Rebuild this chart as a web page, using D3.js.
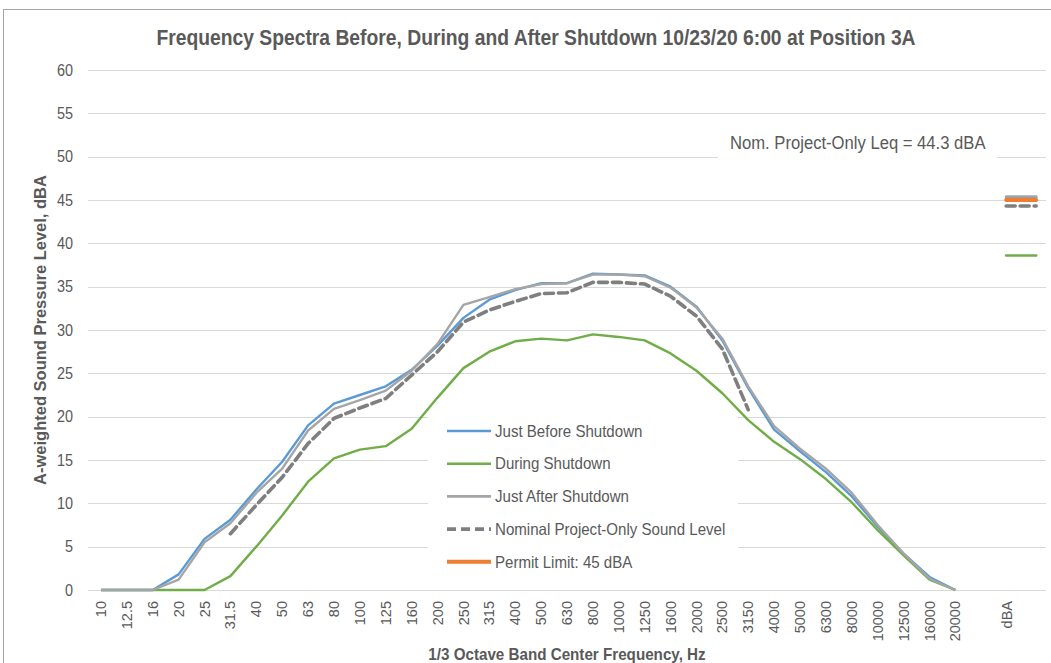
<!DOCTYPE html>
<html><head><meta charset="utf-8">
<script src="https://cdn.jsdelivr.net/npm/d3@7"></script>
<style>
body{margin:0;background:#fff}
svg{display:block}
text{font-family:"Liberation Sans",Arial,sans-serif;fill:#595959}
</style>
</head><body>
<svg id="c" width="1051" height="663"></svg>
<script>
// ---- data ----
const categories = ["10","12.5","16","20","25","31.5","40","50","63","80","100","125","160","200","250","315","400","500","630","800","1000","1250","1600","2000","2500","3150","4000","5000","6300","8000","10000","12500","16000","20000","","dBA",""];
const justBefore = [0,0,0,1.8,5.9,8.1,11.6,14.8,19.0,21.5,22.5,23.5,25.4,28.2,31.4,33.5,34.6,35.4,35.4,36.5,36.4,36.3,35.0,32.7,28.8,23.3,18.5,16.0,13.6,10.8,7.3,4.2,1.5,0];
const during = [0,0,0,0,0,1.6,5.0,8.6,12.5,15.2,16.2,16.6,18.6,22.2,25.6,27.5,28.7,29.0,28.8,29.5,29.2,28.8,27.3,25.3,22.7,19.6,17.1,15.1,12.8,10.1,6.9,4.0,1.2,0];
const justAfter = [0,0,0,1.2,5.5,7.7,11.2,14.0,18.4,20.9,21.9,23.0,25.3,28.4,32.9,33.8,34.7,35.3,35.4,36.4,36.4,36.2,34.9,32.6,29.0,23.5,18.9,16.3,14.0,11.2,7.5,4.2,1.3,0];
const nominal = [null,null,null,null,null,6.5,9.8,13.0,16.9,19.8,21.0,22.1,24.8,27.5,30.9,32.3,33.3,34.2,34.3,35.5,35.5,35.3,33.9,31.6,27.8,20.8,null,null,null,null,null,null,null,null];
const seriesNames = ["Just Before Shutdown","During Shutdown","Just After Shutdown","Nominal Project-Only Sound Level","Permit Limit: 45 dBA"];
const seriesColors = ["#5B9BD5","#70AD47","#A5A5A5","#7F7F7F","#ED7D31"];
const dbaValues = [45.3, 38.6, 45.4, 44.3, 45.0]; // overall dBA per series
const yTicks = [0,5,10,15,20,25,30,35,40,45,50,55,60];
const title = "Frequency Spectra Before, During and After Shutdown 10/23/20 6:00 at Position 3A";
const yTitle = "A-weighted Sound Pressure Level, dBA";
const xTitle = "1/3 Octave Band Center Frequency, Hz";
const annotation = "Nom. Project-Only Leq = 44.3 dBA";

// ---- helpers ----
function condense(sel, f){
  sel.each(function(){
    const w = this.getComputedTextLength();
    if(w>0) d3.select(this).attr("textLength", w*f).attr("lengthAdjust","spacingAndGlyphs");
  });
  return sel;
}

// ---- layout ----
const svg = d3.select("#c");
const L = 88, R = 1046, T = 70, B = 590;
const x = d3.scaleBand().domain(d3.range(categories.length)).range([L, R]);
const xc = i => x(i) + x.bandwidth()/2;
const y = d3.scaleLinear().domain([0,60]).range([B, T]);

// chart border
svg.append("rect").attr("x",3.5).attr("y",9.5).attr("width",1100).attr("height",700)
  .attr("fill","none").attr("stroke","#A6A6A6").attr("stroke-width",1);

// gridlines
svg.append("g").selectAll("line").data(yTicks).join("line")
  .attr("x1",L).attr("x2",R).attr("y1",d=>Math.round(y(d))+0.5).attr("y2",d=>Math.round(y(d))+0.5)
  .attr("stroke","#D9D9D9").attr("stroke-width",1.2);

// y axis labels
const yAxis = d3.axisLeft(y).tickValues(yTicks).tickSize(0).tickPadding(0);
const gy = svg.append("g").attr("transform",`translate(${L-15},0)`).call(yAxis);
gy.select(".domain").remove();
gy.selectAll("text").attr("font-size",16).style("font-family",'"Liberation Sans",Arial,sans-serif').attr("fill","#595959");
condense(gy.selectAll("text"),0.9);

// x axis labels
const xAxis = d3.axisBottom(x).tickFormat(i=>categories[i]).tickSize(0).tickPadding(0);
const gx = svg.append("g").attr("transform",`translate(0,${B})`).call(xAxis);
gx.select(".domain").remove();
gx.selectAll("text").attr("font-size",14.5).style("font-family",'"Liberation Sans",Arial,sans-serif').attr("fill","#595959")
  .attr("text-anchor","end").attr("dy","0.35em")
  .attr("transform","translate(0,11) rotate(-90)").attr("y",0).attr("x",0);

// series lines
const line = d3.line().defined(d=>d!=null).x((d,i)=>xc(i)).y(d=>y(d));
const data = [justBefore, during, justAfter];
data.forEach((s,k)=>{
  svg.append("path").datum(s).attr("d",line).attr("fill","none")
    .attr("stroke",seriesColors[k]).attr("stroke-width",2.4).attr("stroke-linejoin","round");
});
svg.append("path").datum(nominal).attr("d",line).attr("fill","none")
  .attr("stroke",seriesColors[3]).attr("stroke-width",3.6).attr("stroke-dasharray","9,5").attr("stroke-linecap","round");

// dBA markers
const di = categories.indexOf("dBA");
const mx1 = xc(di)-1, mx2 = xc(di) + x.bandwidth()*1.12;
[0,1,2,3,4].forEach(k=>{
  const ln = svg.append("line").attr("x1",mx1).attr("x2",mx2).attr("y1",y(dbaValues[k])).attr("y2",y(dbaValues[k]))
    .attr("stroke",seriesColors[k]).attr("stroke-width",k===4?4:(k===3?3.6:2.6)).attr("stroke-linecap","round");
  if(k===3) ln.attr("stroke-dasharray","9,5");
});

// annotation with white background
svg.append("rect").attr("x",718).attr("y",125).attr("width",279).attr("height",40).attr("fill","#fff");
condense(svg.append("text").attr("x",730).attr("y",149).attr("font-size",17.5).text(annotation),0.95);

// legend
const lg = svg.append("g");
lg.append("rect").attr("x",428).attr("y",414).attr("width",310).attr("height",168).attr("fill","#fff");
seriesNames.forEach((n,k)=>{
  const yy = 431 + k*32.7;
  const l = lg.append("line").attr("x1",447).attr("x2",491).attr("y1",yy).attr("y2",yy)
    .attr("stroke",seriesColors[k]).attr("stroke-width",k===4?4:(k===3?3.6:2.6));
  if(k===3) l.attr("stroke-dasharray","9,5");
  condense(lg.append("text").attr("x",495).attr("y",yy).attr("dy","0.35em").attr("font-size",16.5).text(n),0.913);
});

// titles
condense(svg.append("text").attr("x",536).attr("y",45).attr("text-anchor","middle").attr("font-size",21.5).attr("font-weight","bold").text(title),0.897);
svg.append("text").attr("transform","translate(46,330) rotate(-90)").attr("text-anchor","middle").attr("font-size",16.5).attr("font-weight","bold").text(yTitle);
condense(svg.append("text").attr("x",567).attr("y",660).attr("text-anchor","middle").attr("font-size",16.5).attr("font-weight","bold").text(xTitle),0.92);
</script>
</body></html>
